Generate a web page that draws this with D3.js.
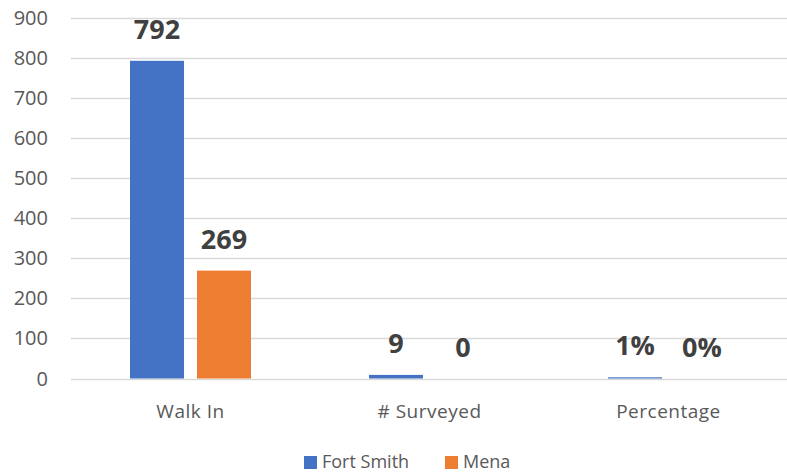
<!DOCTYPE html>
<html>
<head>
<meta charset="utf-8">
<script src="https://cdn.jsdelivr.net/npm/d3@7"></script>
<style>
  body { margin: 0; background: #fff; }
  text { font-family: "Open Sans", "Liberation Sans", sans-serif; }
</style>
</head>
<body>
<div id="chart"></div>
<script>
var categories = ["Walk In", "# Surveyed", "Percentage"];
var seriesNames = ["Fort Smith", "Mena"];
var fortSmith = [792, 9, 3];
var mena = [269, 0, 0];
var fortSmithLabels = ["792", "9", "1%"];
var menaLabels = ["269", "0", "0%"];
var yTicks = [0, 100, 200, 300, 400, 500, 600, 700, 800, 900];
var colors = ["#4472C4", "#ED7D31"];

var width = 787, height = 474;
var margin = {top: 17.5, right: 0, bottom: 95.5, left: 71};

var svg = d3.select("#chart")
  .append("svg")
    .attr("width", width)
    .attr("height", height);

var x = d3.scaleBand()
  .domain(categories)
  .range([margin.left, width + 1])
  .paddingInner(0)
  .paddingOuter(0);

var y = d3.scaleLinear()
  .domain([0, 900])
  .range([height - margin.bottom, margin.top]);

// gridlines
svg.append("g")
  .selectAll("line")
  .data(yTicks)
  .enter()
  .append("line")
    .attr("x1", margin.left)
    .attr("x2", width)
    .attr("y1", d => Math.round(y(d)) + 0.5)
    .attr("y2", d => Math.round(y(d)) + 0.5)
    .attr("stroke", "#d9d9d9")
    .attr("stroke-width", 1.3);

// y axis labels
svg.append("g")
  .selectAll("text")
  .data(yTicks)
  .enter()
  .append("text")
    .attr("x", 48)
    .attr("y", d => y(d))
    .attr("dy", "0.35em")
    .attr("text-anchor", "end")
    .style("font-size", "20px")
    .style("fill", "#595959")
    .text(d => d);

// grouped bars
var barW = 54, gap = 13;
var rows = categories.map(function(c, i) {
  return [
    {cat: c, s: 0, v: fortSmith[i], label: fortSmithLabels[i]},
    {cat: c, s: 1, v: mena[i], label: menaLabels[i]}
  ];
});

var groups = svg.selectAll(".grp")
  .data(rows)
  .enter()
  .append("g")
    .attr("class", "grp")
    .attr("transform", d => "translate(" + (x(d[0].cat) + x.bandwidth() / 2) + ",0)");

function barX(s) {
  return s === 0 ? -gap / 2 - barW : gap / 2;
}

groups.selectAll("rect")
  .data(d => d)
  .enter()
  .append("rect")
    .attr("x", d => barX(d.s))
    .attr("y", d => y(d.v))
    .attr("width", barW)
    .attr("height", d => y(0) - y(d.v))
    .attr("fill", d => colors[d.s]);

// value labels
groups.selectAll(".lbl")
  .data(d => d)
  .enter()
  .append("text")
    .attr("class", "lbl")
    .attr("x", d => barX(d.s) + barW / 2)
    .attr("y", d => y(d.v) - 22)
    .attr("text-anchor", "middle")
    .style("font-size", "27px")
    .style("font-weight", "bold")
    .style("fill", "#404040")
    .text(d => d.label);

// category labels
svg.append("g")
  .selectAll("text")
  .data(categories)
  .enter()
  .append("text")
    .attr("x", d => x(d) + x.bandwidth() / 2)
    .attr("y", 418)
    .attr("text-anchor", "middle")
    .style("font-size", "19px")
    .style("letter-spacing", "0.5px")
    .style("fill", "#595959")
    .text(d => d);

// legend
var legendX = [304, 445];
var legend = svg.append("g")
  .selectAll("g")
  .data(seriesNames)
  .enter()
  .append("g")
    .attr("transform", (d, i) => "translate(" + legendX[i] + ",456)");

legend.append("rect")
  .attr("width", 13)
  .attr("height", 13)
  .attr("fill", (d, i) => colors[i]);

legend.append("text")
  .attr("x", 18)
  .attr("y", 12)
  .style("font-size", "18px")
  .style("fill", "#595959")
  .text(d => d);
</script>
</body>
</html>
